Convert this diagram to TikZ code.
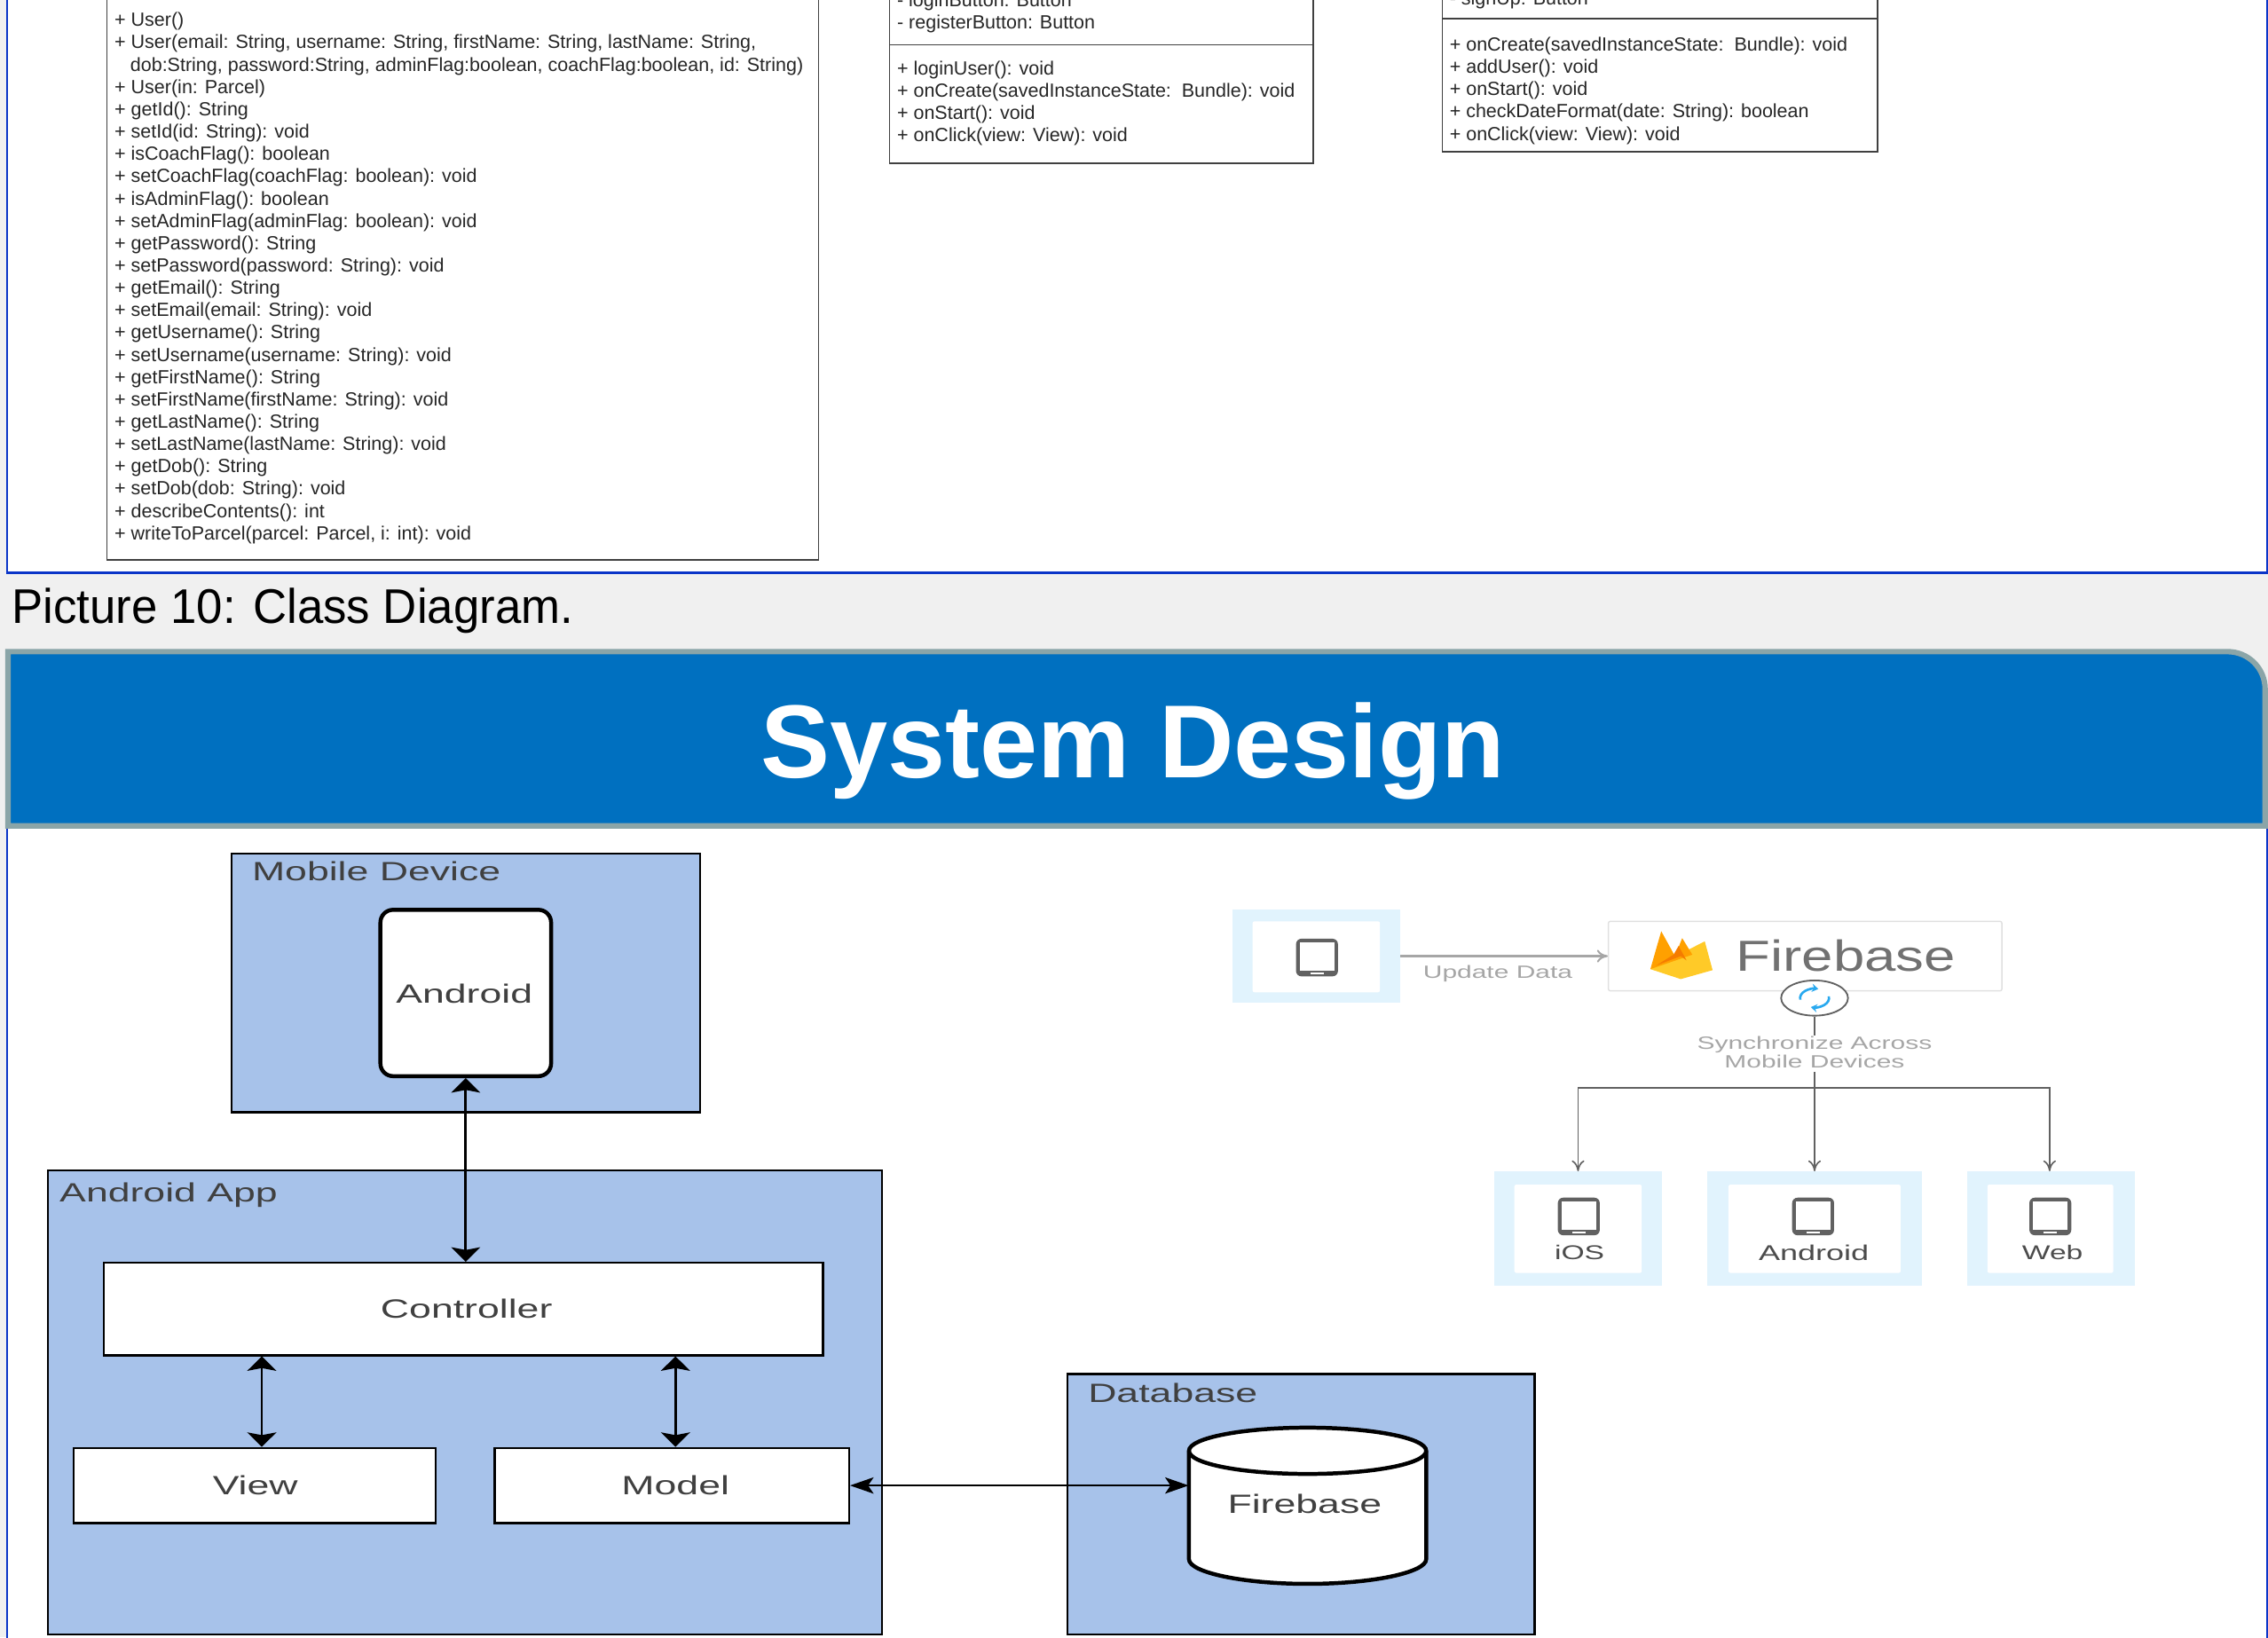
\documentclass[tikz,border=0pt]{standalone}
\usepackage{fontspec}
\setmainfont{Liberation Sans}
\newfontfamily\widefont[FakeStretch=1.5]{Liberation Sans}
\newfontfamily\firefont[FakeStretch=1.3]{Liberation Sans}
\newfontfamily\capfont[FakeStretch=0.963]{Liberation Sans}
\usetikzlibrary{arrows.meta,fit,shapes.geometric,calc}
\definecolor{blueline}{HTML}{0A35C8}
\definecolor{headblue}{HTML}{0070C0}
\definecolor{headrim}{HTML}{8AA5A8}
\definecolor{stripgray}{HTML}{F0F0F0}
\definecolor{paleblue}{HTML}{A7C2EA}
\definecolor{tileblue}{HTML}{E1F3FD}
\definecolor{softgray}{HTML}{A6A6A6}
\definecolor{icongray}{HTML}{616161}
\definecolor{fireyellow}{HTML}{FFCA28}
\definecolor{fireamber}{HTML}{FFA000}
\definecolor{fireorange}{HTML}{F57C00}
\definecolor{syncblue}{HTML}{29A9EF}
\tikzset{
  umlbox/.style={draw=black!75,line width=0.7pt,fill=white,inner sep=0pt},
  umltext/.style={inner sep=0pt,anchor=north west,align=left,font=\fontsize{10.55}{12.34}\selectfont,text=black!85},
  groupbox/.style={draw=black,line width=1.1pt,fill=paleblue,inner sep=0pt},
  grouplabel/.style={inner sep=0pt,anchor=west,font=\widefont\fontsize{14.6}{16}\selectfont,text=black!75},
  blockbox/.style={draw=black,line width=1.1pt,fill=white,inner sep=0pt},
  blocktext/.style={inner sep=0pt,font=\widefont\fontsize{14.6}{16}\selectfont,text=black!75},
  biarrow/.style={line width=1.4pt,{Stealth[length=8pt,width=16pt,inset=1.5pt]}-{Stealth[length=8pt,width=16pt,inset=1.5pt]}},
  biarrowh/.style={line width=0.9pt,{Stealth[length=13pt,width=9pt,inset=3pt]}-{Stealth[length=13pt,width=9pt,inset=3pt]}},
  tile/.style={fill=tileblue,draw=none,inner sep=0pt},
  innertile/.style={fill=white,draw=none,inner sep=0pt},
  softlabel/.style={inner sep=0pt,text=softgray,font=\widefont\fontsize{9.8}{8.8}\selectfont,align=center},
  tilelabel/.style={inner sep=0pt,text=black!70,font=\widefont\fontsize{11}{13}\selectfont},
  syncline/.style={line width=0.8pt,draw=icongray},
  syncarrow/.style={syncline,-{To[length=6pt,width=7pt]}},
  syncicon/.style={draw=syncblue,line width=1.3pt,-{Stealth[length=3.5pt,width=4.5pt]}},
  phone/.pic={
    \fill[icongray,rounded corners=3pt] (-14.5,-13) rectangle (14.5,13);
    \fill[white] (-12,-10.4) rectangle (12,9);
    \fill[white] (-4.5,10.3) rectangle (4.5,11.6);
  }
}
\begin{document}
\begin{tikzpicture}[x=0.8pt,y=-0.8pt]
\useasboundingbox (0,0) rectangle (1568,1131.9);
\clip (0,0) rectangle (1568,1131.9);
\fill[stripgray] (0,0) rectangle (1568,1131.9);
% top panel
\draw[blueline,line width=1.2pt,fill=white] (5,-20) rectangle (1567.5,396);
% user class
\node[umlbox,fit={(74,-20)(566,387)}] (userbox) {};
\node[umltext] (usertext) at (79,8.5) {+ User()\\
+ User(email: String, username: String, firstName: String, lastName: String,\\
\hspace*{8.7pt}dob:String, password:String, adminFlag:boolean, coachFlag:boolean, id: String)\\
+ User(in: Parcel)\\
+ getId(): String\\
+ setId(id: String): void\\
+ isCoachFlag(): boolean\\
+ setCoachFlag(coachFlag: boolean): void\\
+ isAdminFlag(): boolean\\
+ setAdminFlag(adminFlag: boolean): void\\
+ getPassword(): String\\
+ setPassword(password: String): void\\
+ getEmail(): String\\
+ setEmail(email: String): void\\
+ getUsername(): String\\
+ setUsername(username: String): void\\
+ getFirstName(): String\\
+ setFirstName(firstName: String): void\\
+ getLastName(): String\\
+ setLastName(lastName: String): void\\
+ getDob(): String\\
+ setDob(dob: String): void\\
+ describeContents(): int\\
+ writeToParcel(parcel: Parcel, i: int): void};
% login class
\node[umlbox,fit={(615,-20)(908,31)}] (loginattr) {};
\node[umlbox,fit={(615,31)(908,113)}] (loginops) {};
\node[umltext] (logina) at (620,-5.5) {- loginButton: Button\\- registerButton: Button};
\node[umltext] (loginm) at (620,42) {+ loginUser(): void\\
+ onCreate(savedInstanceState:\ \ Bundle): void\\
+ onStart(): void\\
+ onClick(view: View): void};
% sign-up class
\node[umlbox,fit={(997,-20)(1298,13)}] (signattr) {};
\node[umlbox,fit={(997,13)(1298,105)}] (signops) {};
\node[umltext] (signa) at (1002,-6.5) {- signUp: Button};
\node[umltext] (signm) at (1002,25.5) {+ onCreate(savedInstanceState:\ \ Bundle): void\\
+ addUser(): void\\
+ onStart(): void\\
+ checkDateFormat(date: String): boolean\\
+ onClick(view: View): void};
% caption
\node[inner sep=0pt,anchor=base west,font=\capfont\fontsize{26.9}{30}\selectfont,text=black] (caption) at (8,431) {Picture 10: Class Diagram.};
% lower panel
\draw[blueline,line width=1.2pt,fill=white] (5,560) rectangle (1567.5,1150);
% header
\path[fill=headblue,draw=headrim,line width=3pt] (5.5,571) -- (5.5,450.5) -- (1540,450.5) .. controls (1554.4,450.5) and (1566,462) .. (1566,476.5) -- (1566,571) -- cycle;
\node[inner sep=0pt,font=\bfseries\fontsize{57.4}{60}\selectfont,text=white] (title) at (783.5,519) {System Design};
% architecture
\node[groupbox,fit={(160,590)(484,769)}] (mobile) {};
\node[grouplabel] (mobilelabel) at (174,602.5) {Mobile Device};
\node[blockbox,line width=2.2pt,rounded corners=7pt,fit={(263,629)(381,744)}] (android) {};
\node[blocktext] (androidtext) at (321,687) {Android};
\node[groupbox,fit={(33,809)(610,1130)}] (app) {};
\node[grouplabel] (applabel) at (41,826.5) {Android App};
\node[blockbox,fit={(72,873)(569,937)}] (controller) {};
\node[blocktext] (controllertext) at (322.5,905) {Controller};
\node[blockbox,fit={(51,1001)(301,1053)}] (view) {};
\node[blocktext] (viewtext) at (176.5,1027) {View};
\node[blockbox,fit={(342,1001)(587,1053)}] (model) {};
\node[blocktext] (modeltext) at (467,1027) {Model};
\node[groupbox,fit={(738,950)(1061,1130)}] (database) {};
\node[grouplabel] (dblabel) at (752,963) {Database};
\node[inner sep=0pt,fit={(822,987)(986,1095)}] (fbdb) {};
\path[draw=black,line width=2.2pt,fill=white] (822,1003) .. controls (822,994.2) and (859,987) .. (904,987) .. controls (949,987) and (986,994.2) .. (986,1003) -- (986,1078) .. controls (986,1087) and (949,1095) .. (904,1095) .. controls (859,1095) and (822,1087) .. (822,1078) -- cycle;
\path[draw=black,line width=2.2pt] (822,1003) .. controls (822,1012) and (859,1019) .. (904,1019) .. controls (949,1019) and (986,1012) .. (986,1003);
\node[blocktext] (fbdblabel) at (902,1040) {Firebase};
\draw[biarrow] (android.south) -- (android.south |- controller.north);
\draw[biarrow] ([xshift=4pt]view.north) -- ([xshift=4pt]view.north |- controller.south);
\draw[biarrow] ([xshift=2pt]model.north) -- ([xshift=2pt]model.north |- controller.south);
\draw[biarrowh] (model.east) -- (model.east -| fbdb.west);
% firebase sync diagram
\node[tile,fit={(852,629)(968,693)}] (srctile) {};
\node[innertile,rounded corners=1pt,fit={(866,637)(954,686)}] (srcinner) {};
\pic at (910.5,662) {phone};
\node[draw=black!12,line width=0.7pt,fill=white,rounded corners=1pt,inner sep=0pt,fit={(1112,637)(1384,685)}] (firebase) {};
\fill[fireyellow] (1141,670) -- (1178.6,650.8) -- (1184,670.7) -- (1162,676.9) -- cycle;
\fill[fireamber] (1141,670) -- (1148.5,643.8) -- (1158,661) -- (1163,648.6) -- (1170,660) -- cycle;
\fill[fireorange] (1145,667.5) -- (1157,660) -- (1160.5,654) -- (1166,664) -- (1162,661) -- cycle;
\node[inner sep=0pt,anchor=west,font=\firefont\fontsize{24}{26}\selectfont,text=icongray!90] (firebaselabel) at (1200,661) {Firebase};
\node[draw=icongray,line width=0.9pt,fill=white,ellipse,inner sep=0pt,minimum width=37pt,minimum height=19.5pt] (sync) at (1254.5,690) {};
\draw[syncicon] (1254.5,690) ++(170:10 and 6.5) arc[start angle=170,end angle=285,x radius=10,y radius=6.5];
\draw[syncicon] (1254.5,690) ++(-10:10 and 6.5) arc[start angle=-10,end angle=105,x radius=10,y radius=6.5];
\draw[syncarrow,softgray,line width=1pt] (srctile.east |- firebase.west) -- (firebase.west);
\node[softlabel] (updatelabel) at (1035.5,673) {Update Data};
\node[softlabel] (synclabel) at (1254.5,727.5) {Synchronize Across\\Mobile Devices};
\coordinate (busnode) at (1254.5,752);
\coordinate (stemtop) at (1254.5,741);
\draw[syncline] (sync.south) -- (1254.5,716);
\node[tile,fit={(1033,810)(1149,889)}] (iostile) {};
\node[innertile,rounded corners=1pt,fit={(1047,819)(1135,880)}] (iosinner) {};
\node[tile,fit={(1180,810)(1329,889)}] (androidtile) {};
\node[innertile,rounded corners=1pt,fit={(1195,819)(1314,880)}] (androidinner) {};
\node[tile,fit={(1360,810)(1476,889)}] (webtile) {};
\node[innertile,rounded corners=1pt,fit={(1374,819)(1461,880)}] (webinner) {};
\draw[syncline] (stemtop) -- (busnode);
\draw[syncarrow] (busnode) -- (busnode |- androidtile.north);
\draw[syncarrow] (busnode) -| (iostile.north);
\draw[syncarrow] (busnode) -| ([xshift=-0.8pt]webtile.north);
\pic at (1091.5,841) {phone};
\pic at (1253.5,841) {phone};
\pic at (1417.5,841) {phone};
\node[tilelabel] (ioslabel) at (1092,866) {iOS};
\node[tilelabel,font=\widefont\fontsize{11.8}{13}\selectfont] (androidlabel) at (1254,866) {Android};
\node[tilelabel] (weblabel) at (1419,866) {Web};
\end{tikzpicture}
\end{document}
